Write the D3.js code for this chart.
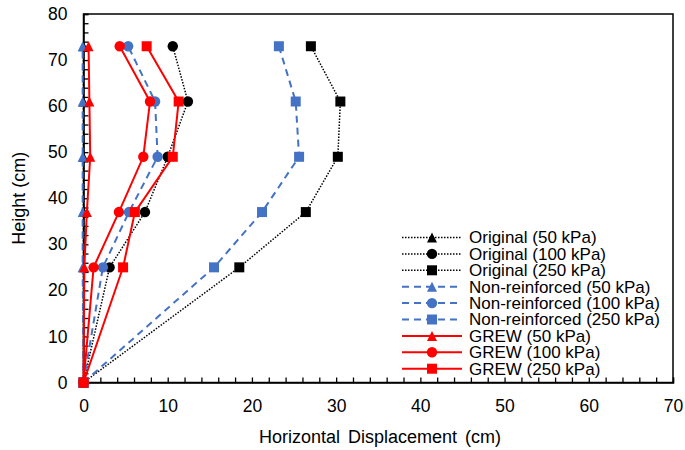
<!DOCTYPE html>
<html>
<head>
<meta charset="utf-8">
<script src="https://cdn.jsdelivr.net/npm/d3@7"></script>
<style>
  body { margin: 0; background: #fff; }
  svg text { font-family: "Liberation Sans", Arial, sans-serif; fill: #000; }
</style>
</head>
<body>
<div id="chart"></div>
<script>
// heights of the measuring points (cm)
const heights = [0, 25, 37, 49, 61, 73];

// horizontal displacement (cm) at each height
const original50 = [0, 0, 0, 0, 0, 0];
const original100 = [0, 3.1, 7.3, 10.0, 12.4, 10.6];
const original250 = [0, 18.5, 26.4, 30.2, 30.5, 27.0];
const nonReinf50 = [0, -0.1, -0.1, -0.1, -0.1, -0.1];
const nonReinf100 = [0, 2.3, 5.4, 8.8, 8.5, 5.3];
const nonReinf250 = [0, 15.5, 21.2, 25.6, 25.2, 23.2];
const grew50 = [0, 0.1, 0.4, 0.8, 0.7, 0.6];
const grew100 = [0, 1.2, 4.2, 7.1, 7.9, 4.3];
const grew250 = [0, 4.7, 6.1, 10.6, 11.3, 7.5];

const seriesNames = [
  'Original (50 kPa)', 'Original (100 kPa)', 'Original (250 kPa)',
  'Non-reinforced (50 kPa)', 'Non-reinforced (100 kPa)', 'Non-reinforced (250 kPa)',
  'GREW (50 kPa)', 'GREW (100 kPa)', 'GREW (250 kPa)'
];
const seriesValues = [original50, original100, original250,
  nonReinf50, nonReinf100, nonReinf250, grew50, grew100, grew250];

const xTicks = d3.range(0, 71, 2);
const yTicks = d3.range(0, 81, 2);

// styles
const groupStyle = [
  { color: '#000000', dash: '1.5 1.5', width: 1.5 },
  { color: '#4472C4', dash: '7 5', width: 2 },
  { color: '#FF0000', dash: null, width: 2 }
];

const triangle = {
  draw(ctx, size) {
    const h = Math.sqrt(size);
    ctx.moveTo(0, -h / 2);
    ctx.lineTo(h / 2, h / 2);
    ctx.lineTo(-h / 2, h / 2);
    ctx.closePath();
  }
};
const shapes = [
  d3.symbol().type(triangle).size(100),
  d3.symbol().type(d3.symbolCircle).size(85),
  d3.symbol().type(d3.symbolSquare).size(100)
];

const width = 685, height = 450;
const plotLeft = 83.5, plotRight = 673, plotTop = 14, plotBottom = 382.5;

const svg = d3.select('#chart').append('svg')
  .attr('width', width).attr('height', height);

const x = d3.scaleLinear().domain([0, 70]).range([plotLeft, plotRight]);
const y = d3.scaleLinear().domain([0, 80]).range([plotBottom, plotTop]);

// axes
const xAxis = svg.append('g')
  .attr('transform', `translate(0,${plotBottom})`)
  .call(d3.axisBottom(x).tickValues(xTicks).tickSize(-5).tickPadding(17)
    .tickFormat(d => d % 10 === 0 ? d : ''));
const yAxis = svg.append('g')
  .attr('transform', `translate(${plotLeft},0)`)
  .call(d3.axisLeft(y).tickValues(yTicks).tickSize(-5).tickPadding(16)
    .tickFormat(d => d % 10 === 0 ? d : ''));
[xAxis, yAxis].forEach(g => {
  g.selectAll('text').style('font-size', '17.5px');
  g.selectAll('line').attr('stroke', '#000').attr('stroke-width', 1.3);
  g.select('.domain').attr('stroke', '#000').attr('stroke-width', 1.5);
});

// frame
svg.append('rect')
  .attr('x', plotLeft).attr('y', plotTop)
  .attr('width', plotRight - plotLeft).attr('height', plotBottom - plotTop)
  .attr('fill', 'none').attr('stroke', '#000').attr('stroke-width', 1.5);

// titles
svg.append('text')
  .attr('x', 380).attr('y', 443)
  .attr('text-anchor', 'middle').style('font-size', '18px')
  .style('word-spacing', '3px')
  .text('Horizontal Displacement (cm)');
svg.append('text')
  .attr('transform', `translate(25,${(plotTop + plotBottom) / 2}) rotate(-90)`)
  .attr('text-anchor', 'middle').style('font-size', '18px')
  .text('Height (cm)');

// series
const line = d3.line().x(d => x(d.x)).y(d => y(d.y));
seriesValues.forEach((vals, i) => {
  const st = groupStyle[Math.floor(i / 3)];
  const pts = vals.map((v, j) => ({ x: v, y: heights[j] }));
  svg.append('path')
    .datum(pts)
    .attr('d', line)
    .attr('fill', 'none')
    .attr('stroke', st.color)
    .attr('stroke-width', st.width)
    .attr('stroke-dasharray', st.dash);
  svg.append('g').selectAll('path')
    .data(pts)
    .join('path')
    .attr('transform', d => `translate(${x(d.x)},${y(d.y)})`)
    .attr('d', shapes[i % 3])
    .attr('fill', st.color);
});

// legend
const legend = svg.append('g');
seriesNames.forEach((name, i) => {
  const st = groupStyle[Math.floor(i / 3)];
  const ly = 237.5 + i * 16.4;
  legend.append('line')
    .attr('x1', 402).attr('x2', 462).attr('y1', ly).attr('y2', ly)
    .attr('stroke', st.color).attr('stroke-width', st.width)
    .attr('stroke-dasharray', st.dash);
  legend.append('path')
    .attr('transform', `translate(432,${ly})`)
    .attr('d', shapes[i % 3])
    .attr('fill', st.color);
  legend.append('text')
    .attr('x', 469).attr('y', ly)
    .attr('dy', '0.35em')
    .style('font-size', '17px')
    .text(name);
});
</script>
</body>
</html>
